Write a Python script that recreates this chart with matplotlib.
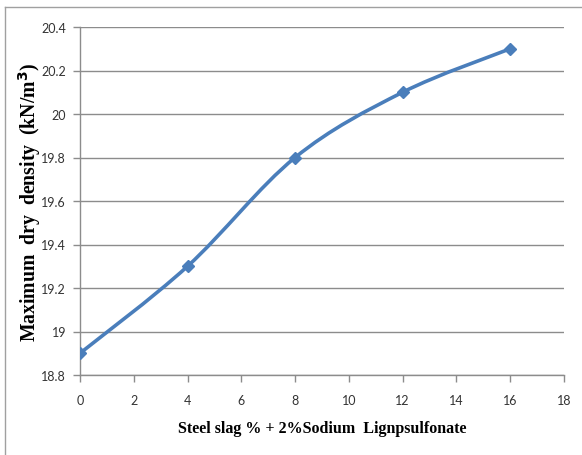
import matplotlib
matplotlib.use("Agg")
import matplotlib.pyplot as plt
from matplotlib.path import Path
from matplotlib.patches import PathPatch
from matplotlib.lines import Line2D
import numpy as np

steel_slag = [0, 4, 8, 12, 16]
max_dry_density = [18.9, 19.3, 19.8, 20.1, 20.3]
x_ticks = [0, 2, 4, 6, 8, 10, 12, 14, 16, 18]
y_ticks = [18.8, 19, 19.2, 19.4, 19.6, 19.8, 20, 20.2, 20.4]
y_tick_labels = ["18.8", "19", "19.2", "19.4", "19.6", "19.8", "20", "20.2", "20.4"]

line_color = "#4A7EBB"
grid_color = "#8C8C8C"

fig = plt.figure(figsize=(5.82, 4.56), dpi=100)
ax = fig.add_axes([80/582, 1-376/456, (564-80)/582, (376-28)/456])

# Smoothed line (Excel style Catmull-Rom Bezier) built from the data points
pts = np.column_stack([steel_slag, max_dry_density]).astype(float)
verts = [tuple(pts[0])]
codes = [Path.MOVETO]
n = len(pts)
for i in range(n - 1):
    p0 = pts[i - 1] if i > 0 else pts[i]
    p1 = pts[i]
    p2 = pts[i + 1]
    p3 = pts[i + 2] if i + 2 < n else pts[i + 1]
    c1 = p1 + (p2 - p0) / 6.0
    c2 = p2 - (p3 - p1) / 6.0
    verts += [tuple(c1), tuple(c2), tuple(p2)]
    codes += [Path.CURVE4] * 3
path = Path(verts, codes)
ax.add_patch(PathPatch(path, facecolor="none", edgecolor=line_color, lw=2.6, zorder=3,
                       capstyle="round", joinstyle="round"))
ax.plot(steel_slag, max_dry_density, linestyle="none", marker="D", markersize=6.5,
        color=line_color, zorder=4)

ax.set_xlim(0, 18)
ax.set_ylim(18.8, 20.4)
ax.set_xticks(x_ticks)
ax.set_yticks(y_ticks)
ax.set_yticklabels(y_tick_labels)
ax.yaxis.grid(True, color=grid_color, lw=1.0)
ax.set_axisbelow(True)
for s in ["top", "right"]:
    ax.spines[s].set_visible(False)
for s in ["left", "bottom"]:
    ax.spines[s].set_color(grid_color)
    ax.spines[s].set_linewidth(1.0)
ax.tick_params(axis="both", direction="out", length=5, width=1, color=grid_color,
               labelsize=9, labelcolor="#333333")
ax.tick_params(axis="x", pad=9)
ax.tick_params(axis="y", pad=5)
for lab in ax.get_xticklabels() + ax.get_yticklabels():
    lab.set_family("Lato")

ax.set_xlabel("Steel slag % + 2%Sodium  Lignpsulfonate", fontfamily="Liberation Serif",
              fontweight="bold", fontsize=11.5, labelpad=10)
ax.set_ylabel("Maximum  dry  density  (kN/m$^\\mathbf{3}$)", fontfamily="Liberation Serif",
              fontweight="bold", fontsize=14.2)
ax.yaxis.set_label_coords(-0.077, 0.5)

# figure frame (left and top edges visible)
fig.add_artist(Line2D([5/582, 5/582], [0, 1-8/456], color="#A0A0A0", lw=1, transform=fig.transFigure))
fig.add_artist(Line2D([5/582, 1], [1-8/456, 1-8/456], color="#A0A0A0", lw=1, transform=fig.transFigure))

fig.savefig("out.png", dpi=100)
